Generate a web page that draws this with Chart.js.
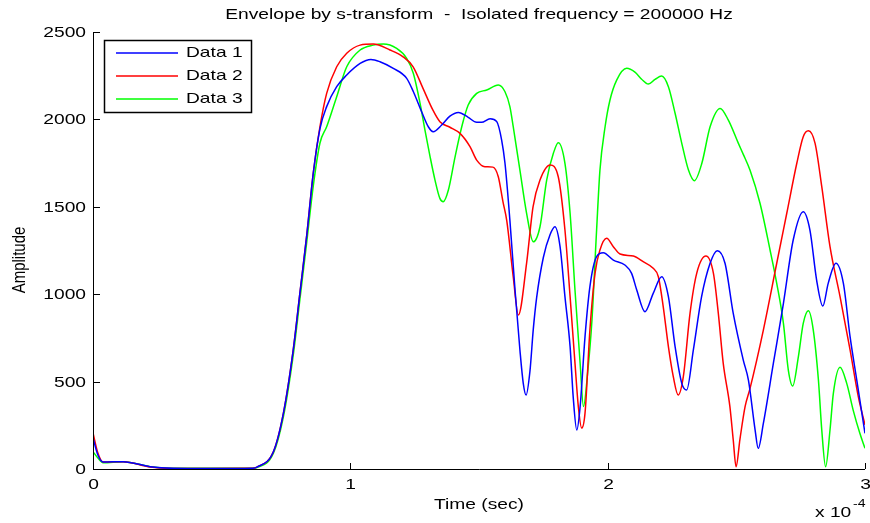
<!DOCTYPE html>
<html>
<head>
<meta charset="utf-8">
<title>Envelope by s-transform</title>
<script src="https://cdn.jsdelivr.net/npm/chart.js@4.4.0/dist/chart.umd.min.js"></script>
<style>
  html, body { margin: 0; padding: 0; background: #fff; }
  #wrap { width: 870px; height: 523px; }
</style>
</head>
<body>
<div id="wrap"><canvas id="envChart" width="870" height="523"></canvas></div>
<script>
// time values are in units of 1e-4 s (axis shows the x 10^-4 multiplier)
const time1 = [0, 0.019, 0.039, 0.117, 0.222, 0.311, 0.45, 0.622, 0.637, 0.701, 0.740, 0.778, 0.804, 0.830, 0.856, 0.882, 0.908, 0.947, 0.986, 1.038, 1.080,
  1.115, 1.167, 1.219, 1.245, 1.277, 1.303, 1.322, 1.355, 1.387, 1.420, 1.458, 1.491, 1.510, 1.543, 1.569, 1.588, 1.601, 1.620, 1.640, 1.659,
  1.672, 1.683, 1.698, 1.711, 1.724, 1.750, 1.776, 1.795, 1.815, 1.834, 1.854, 1.866, 1.880, 1.893, 1.912, 1.931, 1.957, 1.983, 2.022, 2.067,
  2.093, 2.113, 2.145, 2.177, 2.210, 2.236, 2.262, 2.288, 2.307, 2.333, 2.365, 2.398, 2.426, 2.456, 2.488, 2.527, 2.547, 2.573, 2.585, 2.605,
  2.644, 2.683, 2.721, 2.760, 2.786, 2.812, 2.836, 2.857, 2.887, 2.916, 2.942, 2.968, 3.0];
const amp1 = [177, 80, 40, 42, 13, 4, 3, 5, 11, 99, 320, 680, 1006, 1329, 1693, 1947, 2073, 2187, 2254, 2320, 2343,
  2330, 2292, 2235, 2158, 2044, 1958, 1930, 1968, 2019, 2040, 2012, 1983, 1983, 2004, 1987, 1882, 1749, 1424, 1024, 681,
  490, 423, 560, 800, 980, 1210, 1340, 1386, 1272, 986, 700, 414, 223, 357, 757, 1043, 1215, 1237, 1195, 1167,
  1119, 1024, 900, 1005, 1100, 986, 700, 490, 452, 681, 986, 1177, 1249, 1177, 890, 623, 509, 223, 118, 261,
  605, 948, 1310, 1472, 1367, 1081, 932, 1062, 1177, 1062, 757, 509, 204];

const time2 = [0, 0.019, 0.039, 0.117, 0.222, 0.311, 0.45, 0.622, 0.637, 0.701, 0.740, 0.778, 0.804, 0.830, 0.856, 0.882, 0.908, 0.947, 0.986, 1.038, 1.089,
  1.154, 1.205, 1.244, 1.282, 1.321, 1.348, 1.387, 1.426, 1.465, 1.491, 1.523, 1.554, 1.575, 1.593, 1.608, 1.633, 1.653, 1.685, 1.710, 1.737,
  1.776, 1.808, 1.834, 1.854, 1.873, 1.886, 1.899, 1.912, 1.931, 1.951, 1.970, 1.996, 2.022, 2.048, 2.100, 2.138, 2.177, 2.197, 2.216, 2.236,
  2.255, 2.274, 2.294, 2.320, 2.346, 2.382, 2.411, 2.430, 2.449, 2.475, 2.488, 2.499, 2.514, 2.534, 2.553, 2.605, 2.657, 2.696, 2.735, 2.760,
  2.780, 2.806, 2.832, 2.864, 2.903, 2.942, 2.974, 3.0];
const amp2 = [206, 91, 40, 42, 12, 3, 3, 4, 11, 99, 320, 680, 1006, 1329, 1693, 1958, 2149, 2301, 2378, 2425, 2431,
  2397, 2358, 2301, 2179, 2053, 1987, 1955, 1920, 1844, 1767, 1729, 1727, 1672, 1530, 1420, 1100, 881, 1178, 1500, 1653,
  1739, 1672, 1367, 986, 606, 357, 234, 320, 795, 1121, 1253, 1320, 1272, 1230, 1218, 1186, 1148, 1100, 928, 700,
  528, 423, 528, 890, 1119, 1218, 1119, 890, 606, 357, 166, 13, 170, 357, 460, 795, 1177, 1463, 1749, 1901,
  1935, 1863, 1615, 1272, 986, 681, 414, 252];

const time3 = [0, 0.019, 0.039, 0.117, 0.222, 0.311, 0.45, 0.622, 0.637, 0.701, 0.740, 0.778, 0.804, 0.830, 0.856, 0.882, 0.908, 0.947, 0.986, 1.038, 1.089,
  1.128, 1.180, 1.219, 1.245, 1.271, 1.290, 1.310, 1.329, 1.348, 1.361, 1.381, 1.407, 1.433, 1.458, 1.491, 1.530, 1.575, 1.601, 1.620, 1.633,
  1.659, 1.685, 1.711, 1.737, 1.763, 1.789, 1.808, 1.834, 1.854, 1.873, 1.893, 1.906, 1.922, 1.939, 1.957, 1.970, 1.990, 2.009, 2.035, 2.074,
  2.106, 2.132, 2.158, 2.184, 2.210, 2.236, 2.262, 2.288, 2.314, 2.337, 2.366, 2.398, 2.437, 2.469, 2.508, 2.527, 2.553, 2.592, 2.631, 2.657,
  2.683, 2.702, 2.719, 2.741, 2.760, 2.780, 2.799, 2.819, 2.832, 2.847, 2.864, 2.877, 2.903, 2.929, 2.954, 2.980, 3.0];
const amp3 = [99, 63, 36, 42, 13, 4, 4, 5, 8, 90, 300, 650, 970, 1290, 1620, 1865, 1958, 2130, 2301, 2397, 2425,
  2431, 2406, 2349, 2263, 2092, 1939, 1786, 1653, 1548, 1529, 1596, 1786, 1958, 2082, 2149, 2168, 2197, 2158, 2073, 1958,
  1710, 1463, 1300, 1386, 1653, 1806, 1867, 1749, 1463, 1024, 605, 357, 547, 852, 1367, 1710, 1958, 2111, 2225, 2292,
  2270, 2230, 2202, 2229, 2248, 2187, 2035, 1863, 1710, 1649, 1749, 1958, 2063, 1996, 1863, 1800, 1710, 1520, 1253, 1062,
  833, 566, 475, 642, 833, 905, 795, 509, 223, 13, 223, 433, 582, 490, 337, 204, 118];

const seriesNames = ['Data 1', 'Data 2', 'Data 3'];
const seriesColors = ['#0000ff', '#ff0000', '#00ff00'];
const xTicks = [0, 1, 2, 3];
const yTicks = [0, 500, 1000, 1500, 2000, 2500];

const FONT = '"Liberation Sans", Arial, sans-serif';
const WIDE = 1.28; // glyphs are drawn a little wide, like the original figure

function wideText(ctx, text, x, y, size, align, baseline) {
  ctx.save();
  ctx.font = size + 'px ' + FONT;
  ctx.textAlign = align;
  ctx.textBaseline = baseline;
  ctx.fillStyle = '#000';
  ctx.translate(x, y);
  ctx.scale(WIDE, 1);
  ctx.fillText(text, 0, 0);
  ctx.restore();
}

function toPoints(xs, ys) {
  return xs.map((x, i) => ({ x: x, y: ys[i] }));
}

// axes, inward ticks, labels, title and boxed legend in MATLAB style
const figureDecor = {
  id: 'figureDecor',
  afterDatasetsDraw(chart) {
    const ctx = chart.ctx;
    const area = chart.chartArea;
    const xs = chart.scales.x;
    const ys = chart.scales.y;

    ctx.save();
    ctx.strokeStyle = '#000';
    ctx.lineWidth = 1;
    ctx.beginPath();
    ctx.moveTo(area.left + 0.5, area.top);
    ctx.lineTo(area.left + 0.5, area.bottom + 0.5);
    ctx.lineTo(area.right, area.bottom + 0.5);
    ctx.stroke();

    xTicks.forEach((v) => {
      const px = Math.round(xs.getPixelForValue(v)) + 0.5;
      ctx.beginPath();
      ctx.moveTo(px, area.bottom);
      ctx.lineTo(px, area.bottom - 6);
      ctx.stroke();
      wideText(ctx, String(v), px, area.bottom + 16, 15, 'center', 'middle');
    });
    yTicks.forEach((v) => {
      const py = Math.round(ys.getPixelForValue(v)) + 0.5;
      ctx.beginPath();
      ctx.moveTo(area.left, py);
      ctx.lineTo(area.left + 7, py);
      ctx.stroke();
      wideText(ctx, String(v), area.left - 7, py, 15, 'right', 'middle');
    });
    ctx.restore();

    // titles
    wideText(ctx, 'Envelope by s-transform  -  Isolated frequency = 200000 Hz', (area.left + area.right) / 2, 15, 15, 'center', 'middle');
    wideText(ctx, 'Time (sec)', (area.left + area.right) / 2, 505, 15, 'center', 'middle');
    wideText(ctx, 'x 10', 815, 513, 15, 'left', 'middle');
    wideText(ctx, '-4', 853, 504, 11, 'left', 'middle');

    ctx.save();
    ctx.font = '15px ' + FONT;
    ctx.fillStyle = '#000';
    ctx.textAlign = 'center';
    ctx.textBaseline = 'middle';
    ctx.translate(20, 260);
    ctx.scale(WIDE, 1);
    ctx.rotate(-Math.PI / 2);
    ctx.fillText('Amplitude', 0, 0);
    ctx.restore();

    // legend box
    ctx.save();
    ctx.fillStyle = '#fff';
    ctx.fillRect(104, 40, 148, 73);
    ctx.strokeStyle = '#000';
    ctx.lineWidth = 1.5;
    ctx.strokeRect(104.5, 40.5, 147, 72);
    chart.data.datasets.forEach((ds, i) => {
      const y = 53 + i * 23;
      ctx.strokeStyle = ds.borderColor;
      ctx.lineWidth = 1.5;
      ctx.beginPath();
      ctx.moveTo(116, y);
      ctx.lineTo(178, y);
      ctx.stroke();
      wideText(ctx, ds.label, 186, y, 15, 'left', 'middle');
    });
    ctx.restore();
  }
};

const ctx = document.getElementById('envChart').getContext('2d');
const envChart = new Chart(ctx, {
  type: 'line',
  data: {
    datasets: [
      { label: seriesNames[0], data: toPoints(time1, amp1), borderColor: seriesColors[0] },
      { label: seriesNames[1], data: toPoints(time2, amp2), borderColor: seriesColors[1] },
      { label: seriesNames[2], data: toPoints(time3, amp3), borderColor: seriesColors[2] }
    ]
  },
  options: {
    responsive: false,
    animation: false,
    devicePixelRatio: 1,
    layout: { padding: { left: 93, top: 32, right: 5, bottom: 54 } },
    elements: {
      line: { borderWidth: 1.5, cubicInterpolationMode: 'monotone', fill: false },
      point: { radius: 0, hoverRadius: 0 }
    },
    scales: {
      x: { type: 'linear', display: false, min: 0, max: 3 },
      y: { type: 'linear', display: false, min: 0, max: 2500 }
    },
    plugins: {
      legend: { display: false },
      title: { display: false },
      tooltip: { enabled: false }
    }
  },
  plugins: [figureDecor]
});
</script>
</body>
</html>
